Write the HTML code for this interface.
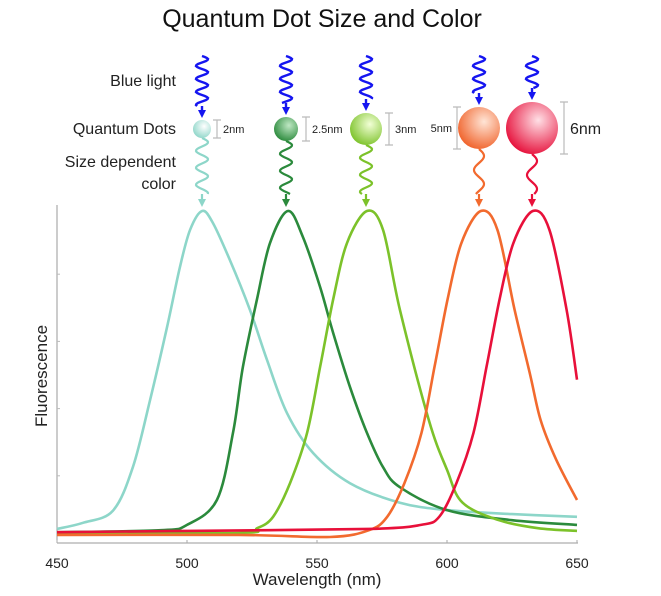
<!DOCTYPE html>
<html><head><meta charset="utf-8"><style>
html,body{margin:0;padding:0;background:#fff;}
svg{display:block;font-family:"Liberation Sans",sans-serif;}
</style></head><body>
<svg id="chart" width="661" height="596" viewBox="0 0 661 596">
<defs>
<radialGradient id="gc" cx="0.62" cy="0.35" r="0.7"><stop offset="0" stop-color="#ffffff"/><stop offset="1" stop-color="#8fd6c9"/></radialGradient>
<radialGradient id="gd" cx="0.62" cy="0.35" r="0.7"><stop offset="0" stop-color="#bfe8c4"/><stop offset="1" stop-color="#2b8a3c"/></radialGradient>
<radialGradient id="gl" cx="0.62" cy="0.35" r="0.7"><stop offset="0" stop-color="#f2ffd6"/><stop offset="1" stop-color="#7cc22a"/></radialGradient>
<radialGradient id="go" cx="0.62" cy="0.35" r="0.7"><stop offset="0" stop-color="#ffe5d6"/><stop offset="1" stop-color="#f0622a"/></radialGradient>
<radialGradient id="gr" cx="0.62" cy="0.35" r="0.7"><stop offset="0" stop-color="#ffe0e6"/><stop offset="1" stop-color="#e60f3a"/></radialGradient>
</defs>
<text x="322" y="27" text-anchor="middle" font-size="25" fill="#111">Quantum Dot Size and Color</text>
<text x="176" y="86" text-anchor="end" font-size="16" fill="#222">Blue light</text>
<text x="176" y="134" text-anchor="end" font-size="16" fill="#222">Quantum Dots</text>
<text x="176" y="167" text-anchor="end" font-size="16" fill="#222">Size dependent</text>
<text x="176" y="189" text-anchor="end" font-size="16" fill="#222">color</text>
<g id="deco"></g>
<g id="axes"></g>
<g id="plot"></g>
</svg>
<script>
const xTicks = [450, 500, 550, 600, 650];
const yTicks = [1, 2, 3, 4];
const cyanWl = [450,460,471.5,479.2,485.8,492.3,497.3,501.2,505.8,510,516.5,524.2,530.8,538.5,548.5,562.7,581.9,600,625,650];
const cyanVal = [0.21,0.30,0.48,1.13,2.13,3.21,4.11,4.66,4.94,4.76,4.21,3.47,2.72,1.93,1.34,0.89,0.60,0.49,0.43,0.39];
const dgreenWl = [450,490,500,511.5,517.7,521.5,526.9,531.9,538.8,544.6,551.2,556.2,562.7,569.2,575.4,581.9,600,625,650];
const dgreenVal = [0.16,0.19,0.27,0.64,1.64,2.62,3.62,4.46,4.94,4.55,3.81,3.13,2.32,1.64,1.13,0.83,0.49,0.34,0.27];
const lgreenWl = [450,520,527,533.1,539.6,546.2,551.2,556.2,561.5,569.2,575.4,581.9,593,600,606,620,635,650];
const lgreenVal = [0.15,0.15,0.22,0.39,0.89,1.64,2.62,3.62,4.46,4.94,4.66,3.47,1.83,1.09,0.60,0.34,0.22,0.18];
const orangeWl = [450,520,555,570,577,583.6,590.2,595.2,600.2,605.5,613,619.4,626,632,636,642,650];
const orangeVal = [0.12,0.12,0.09,0.19,0.39,0.89,1.64,2.62,3.62,4.46,4.94,4.66,3.47,2.5,1.83,1.24,0.64];
const redWl = [450,500,570,590,597,603.6,610.2,615.2,620.2,625.5,633,639.4,646,650];
const redVal = [0.16,0.18,0.21,0.27,0.39,0.89,1.64,2.62,3.62,4.46,4.94,4.66,3.47,2.43];

const NS='http://www.w3.org/2000/svg';
const X0=57,X1=577,Y0=543,Y1=207;
function xs(w){return X0+(w-450)/(650-450)*(X1-X0);}
function ys(v){return Y0-v/5*(Y0-Y1);}
function mk(tag,attrs,parent){const e=document.createElementNS(NS,tag);for(const k in attrs)e.setAttribute(k,attrs[k]);parent.appendChild(e);return e;}
const axes=document.getElementById('axes'),plot=document.getElementById('plot'),deco=document.getElementById('deco');
let a=mk('line',{x1:X0,y1:Y1-2,x2:X0,y2:Y0,stroke:'#999','stroke-width':1},axes);


a=mk('line',{x1:X0,y1:Y0,x2:X1+1,y2:Y0,stroke:'#999','stroke-width':1},axes);


xTicks.forEach(t=>{
 const l=mk('line',{x1:xs(t),y1:Y0,x2:xs(t),y2:Y0-3,stroke:'#aaa'},axes);
 
 
 const tx=mk('text',{x:xs(t),y:568,'text-anchor':'middle','font-size':14,fill:'#222'},axes);tx.textContent=t;
 
 
});
yTicks.forEach(t=>{
 const l=mk('line',{x1:X0,y1:ys(t),x2:X0+3,y2:ys(t),stroke:'#bbb'},axes);
 
 
});
let t=mk('text',{x:317,y:585,'text-anchor':'middle','font-size':17,fill:'#222'},axes);t.textContent='Wavelength (nm)';


t=mk('text',{x:0,y:0,transform:'translate(47,376) rotate(-90)','text-anchor':'middle','font-size':17,fill:'#222'},axes);t.textContent='Fluorescence';



function smooth(wl,val){
 const p=wl.map((w,i)=>[xs(w),ys(val[i])]);
 let d='M'+p[0][0].toFixed(1)+','+p[0][1].toFixed(1);
 for(let i=0;i<p.length-1;i++){
  const p0=p[i-1]||p[i],p1=p[i],p2=p[i+1],p3=p[i+2]||p2;
  const c1=[p1[0]+(p2[0]-p0[0])/6,p1[1]+(p2[1]-p0[1])/6];
  const c2=[p2[0]-(p3[0]-p1[0])/6,p2[1]-(p3[1]-p1[1])/6];
  d+=`C${c1[0].toFixed(1)},${c1[1].toFixed(1)} ${c2[0].toFixed(1)},${c2[1].toFixed(1)} ${p2[0].toFixed(1)},${p2[1].toFixed(1)}`;
 }
 return d;
}
const series=[[cyanWl,cyanVal,'#8dd6c9','cyan'],[dgreenWl,dgreenVal,'#2b8a3c','dark-green'],[lgreenWl,lgreenVal,'#7cc22a','light-green'],[orangeWl,orangeVal,'#f26a2e','orange'],[redWl,redVal,'#e8103a','red']];
series.forEach(s=>{
 const pth=mk('path',{d:smooth(s[0],s[1]),fill:'none',stroke:s[2],'stroke-width':2.6,'stroke-linejoin':'round'},plot);
 
 
});

function squig(x,y0,y1,amp,per){
 let d='M'+x+','+y0;
 for(let y=y0;y<=y1;y+=1){const v=x+amp*Math.sin((y-y0)/per*2*Math.PI);d+=' L'+v.toFixed(1)+','+y;}
 return d;
}
function arrow(x,y,col,parent){return mk('path',{d:`M${x-4},${y-8} L${x+4},${y-8} L${x},${y} Z`,fill:col},parent);}
const dots=[[202,129,9,'gc','#8dd6c9','2nm',217,'right',11],[286,129,12,'gd','#2b8a3c','2.5nm',306,'right',11],[366,129,16,'gl','#7cc22a','3nm',389,'right',11],[479,128,21,'go','#f26a2e','5nm',457,'left',11],[532,128,26,'gr','#e8103a','6nm',564,'right',16]];
dots.forEach(d=>{
 const [cx,cy,r,g,col,lab,bx,side,fs]=d;
 const top=cy-r-2;
 const b=mk('path',{d:squig(cx,56,top-12,6,13),fill:'none',stroke:'#1515f0','stroke-width':2.4},deco);
 
 
 mk('line',{x1:cx,y1:top-12,x2:cx,y2:top-6,stroke:'#1515f0','stroke-width':2.4},deco);
 arrow(cx,top,'#1515f0',deco);
 const bot=cy+r;
 const e=mk('path',{d:squig(cx,bot,194,r>18?5:6,r>18?28:17),fill:'none',stroke:col,'stroke-width':2.2},deco);
 
 
 mk('line',{x1:cx,y1:194,x2:cx,y2:200,stroke:col,'stroke-width':2.2},deco);
 arrow(cx,207,col,deco);
 const c=mk('circle',{cx:cx,cy:cy,r:r,fill:`url(#${g})`},deco);
 
 
 const br=mk('path',{d:`M${bx-4},${cy-r} H${bx+4} M${bx},${cy-r} V${cy+r} M${bx-4},${cy+r} H${bx+4}`,stroke:'#bbb','stroke-width':1.2,fill:'none'},deco);
 
 
 const tx=mk('text',{x:side==='right'?bx+6:bx-5,y:cy+(fs>12?6:4),'text-anchor':side==='right'?'start':'end','font-size':fs,fill:'#222'},deco);
 tx.textContent=lab;
 
 
});
</script>
</body></html>
